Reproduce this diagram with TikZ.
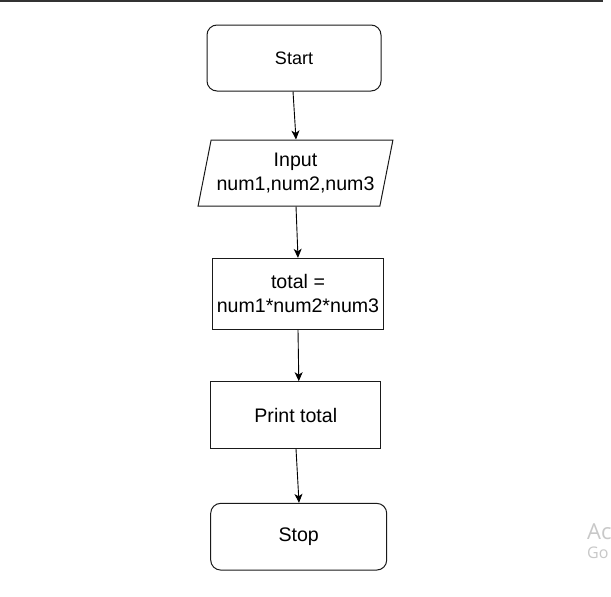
\documentclass[tikz,border=0pt]{standalone}
\usepackage{fontspec}
\setmainfont{Liberation Sans}
\newfontfamily\wmfont{Open Sans}
\usetikzlibrary{shapes.geometric,arrows.meta}
\definecolor{edgecol}{HTML}{1A1A1A}
\definecolor{wmgray}{HTML}{C8C8C8}
\tikzset{
  base/.style={draw=edgecol, line width=1pt, align=center, inner sep=0pt,
               font=\fontsize{19.6}{24}\selectfont},
  termbox/.style={base, rectangle, rounded corners=10pt},
  procbox/.style={base, rectangle},
  iobox/.style={base, trapezium, trapezium left angle=73, trapezium right angle=107,
                trapezium stretches=true},
  flow/.style={draw=black, line width=0.9pt, -{Stealth[length=9pt,width=8pt,inset=2.5pt]}},
  wm/.style={text=wmgray, anchor=west, inner sep=0pt}
}
\begin{document}
\begin{tikzpicture}[x=1pt,y=-1pt]
\useasboundingbox (0,0) rectangle (611,597);
\fill[white] (0,0) rectangle (611,597);
\draw[color=black!80, line width=1.6pt] (0,0.8) -- (603,0.8);

\node[termbox, minimum width=174pt, minimum height=66pt,
      font=\fontsize{18}{21}\selectfont] (start) at (294,58) {Start};
\node[iobox, minimum width=195pt, minimum height=66pt] (input) at (295.5,173)
      {Input\\num1,num2,num3};
\node[procbox, minimum width=170.6pt, minimum height=71pt] (total) at (298,293.8)
      {total =\\num1*num2*num3};
\node[procbox, minimum width=169.7pt, minimum height=66.6pt] (print) at (295.8,415)
      {Print total};
\node[termbox, minimum width=176pt, minimum height=66.7pt] (stop) at (298.7,536.7)
      {Stop};

\draw[flow] ([xshift=-1pt]start.south) -- ([xshift=0.5pt]input.north);
\draw[flow] ([xshift=0.5pt]input.south) -- (total.north);
\draw[flow] (total.south) -- ([xshift=3pt]print.north);
\draw[flow] ([xshift=0.2pt]print.south) -- ([xshift=0.3pt]stop.north);

\node[wm, font=\wmfont\fontsize{22}{26}\selectfont] (wm1) at (587,532) {Ac};
\node[wm, font=\wmfont\fontsize{16}{19}\selectfont] (wm2) at (587,553) {Go};
\end{tikzpicture}
\end{document}
